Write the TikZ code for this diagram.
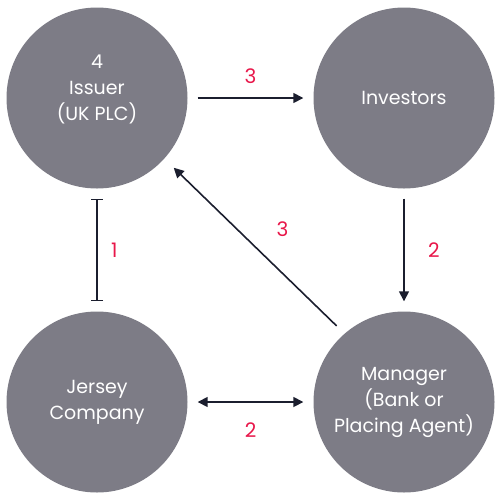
\documentclass[tikz,border=0pt]{standalone}
\usepackage{fontspec}
\setmainfont{Poppins}
\usetikzlibrary{arrows.meta}

\definecolor{discgray}{HTML}{7D7C86}
\definecolor{linenavy}{HTML}{1B1E2E}
\definecolor{numred}{HTML}{E8174A}

\tikzset{
  party/.style={circle, fill=discgray, minimum size=181pt, inner sep=0pt,
    text=white, align=center, font=\fontsize{19}{26}\selectfont},
  flow/.style={line width=1.6pt, draw=linenavy, shorten <=10pt, shorten >=10pt,
    -{Stealth[length=10pt, width=10pt, inset=0pt]}},
  num/.style={text=numred, font=\fontsize{20}{22}\selectfont}
}

\begin{document}
\begin{tikzpicture}[x=1pt, y=-1pt]
\useasboundingbox (0,0) rectangle (500,499);

% Bốn bên tham gia
\node[party, label={[text=white, align=center, font=\fontsize{19}{26}\selectfont, yshift=9pt]center:4\\Issuer\\(UK PLC)}] (issuer) at (97,98) {};
\node[party] (investors) at (404,98) {Investors};
\node[party] (jersey) at (97,402) {Jersey\\Company};
\node[party] (manager) at (404,402) {Manager\\(Bank or\\Placing Agent)};

% Bước 3: phát hành cho nhà đầu tư
\draw[flow] (issuer.east) -- (investors.west) node[midway, num, above=10pt] {3};

% Bước 2: nhà đầu tư thanh toán cho manager
\draw[flow] (investors.south) -- (manager.north) node[midway, num, right=20pt] {2};

% Bước 1: liên kết issuer - Jersey
\draw[line width=1.4pt, draw=linenavy, shorten <=10pt, shorten >=10pt, {Bar[width=12pt]}-{Bar[width=12pt]}]
  (issuer.south) -- (jersey.north) node[midway, num, right=10pt] {1};

% Bước 2: manager - Jersey
\draw[flow, {Stealth[length=10pt, width=10pt, inset=0pt]}-{Stealth[length=10pt, width=10pt, inset=0pt]}]
  (jersey.east) -- (manager.west) node[midway, num, below=17pt] {2};

% Bước 3: manager trả tiền cho issuer
\draw[flow, shorten <=11pt, shorten >=13pt] (manager.131) -- (issuer.-42)
  node[midway, num, xshift=28pt, yshift=17pt] {3};
\end{tikzpicture}
\end{document}
